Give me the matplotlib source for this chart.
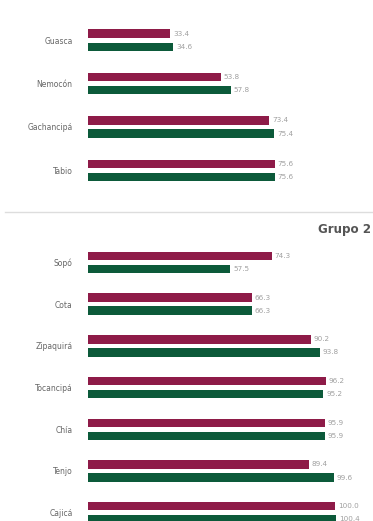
import matplotlib
matplotlib.use("Agg")
import matplotlib.pyplot as plt
from matplotlib.lines import Line2D

# ---- data ----
grupo1_cats = ["Guasca", "Nemocón", "Gachancipá", "Tabio"]
grupo1_a = [33.4, 53.8, 73.4, 75.6]
grupo1_b = [34.6, 57.8, 75.4, 75.6]

grupo2_title = "Grupo 2"
grupo2_cats = ["Sopó", "Cota", "Zipaquirá", "Tocancipá", "Chía", "Tenjo", "Cajicá"]
grupo2_a = [74.3, 66.3, 90.2, 96.2, 95.9, 89.4, 100.0]
grupo2_b = [57.5, 66.3, 93.8, 95.2, 95.9, 99.6, 100.4]

COL_A = "#8E1B48"
COL_B = "#0C5A3A"
W, H = 373, 521
fig = plt.figure(figsize=(W / 100, H / 100), dpi=100)
fig.patch.set_facecolor("white")

X0, X1 = 88, 370
PX_PER_UNIT = 2.47
XMAX = (X1 - X0) / PX_PER_UNIT


def panel(cats, a, b, c0, unit, off_px, h_px):
    n = len(cats)
    top_px = c0 - unit / 2
    bot_px = c0 + (n - 0.5) * unit
    ax = fig.add_axes([X0 / W, 1 - bot_px / H, (X1 - X0) / W, (bot_px - top_px) / H])
    off = off_px / unit
    hh = h_px / unit
    ys = list(range(n))
    ax.barh([y - off for y in ys], a, height=hh, color=COL_A)
    ax.barh([y + off for y in ys], b, height=hh, color=COL_B)
    for y, va, vb in zip(ys, a, b):
        ax.text(va + 1.2, y - off, f"{va:.1f}", va="center", ha="left",
                fontsize=5.2, color="#a0a0a0")
        ax.text(vb + 1.2, y + off, f"{vb:.1f}", va="center", ha="left",
                fontsize=5.2, color="#a0a0a0")
    ax.set_xlim(0, XMAX)
    ax.set_ylim(n - 0.5, -0.5)
    ax.set_yticks(ys)
    ax.set_yticklabels(cats, fontsize=5.5, color="#666666")
    ax.tick_params(axis="y", length=0, pad=11)
    ax.set_xticks([])
    for s in ax.spines.values():
        s.set_visible(False)
    ax.patch.set_alpha(0)
    return ax


panel(grupo1_cats, grupo1_a, grupo1_b, 40.2, 43.4, 6.6, 8.5)
panel(grupo2_cats, grupo2_a, grupo2_b, 262.5, 41.7, 6.5, 8.5)

fig.add_artist(Line2D([5 / W, 1.0], [1 - 212 / H, 1 - 212 / H],
                      transform=fig.transFigure, color="#dddddd", lw=1))
fig.text(371 / W, 1 - 230 / H, grupo2_title, ha="right", va="center",
         fontsize=8.6, fontweight="bold", color="#555555")

fig.savefig("out.png", dpi=100)
